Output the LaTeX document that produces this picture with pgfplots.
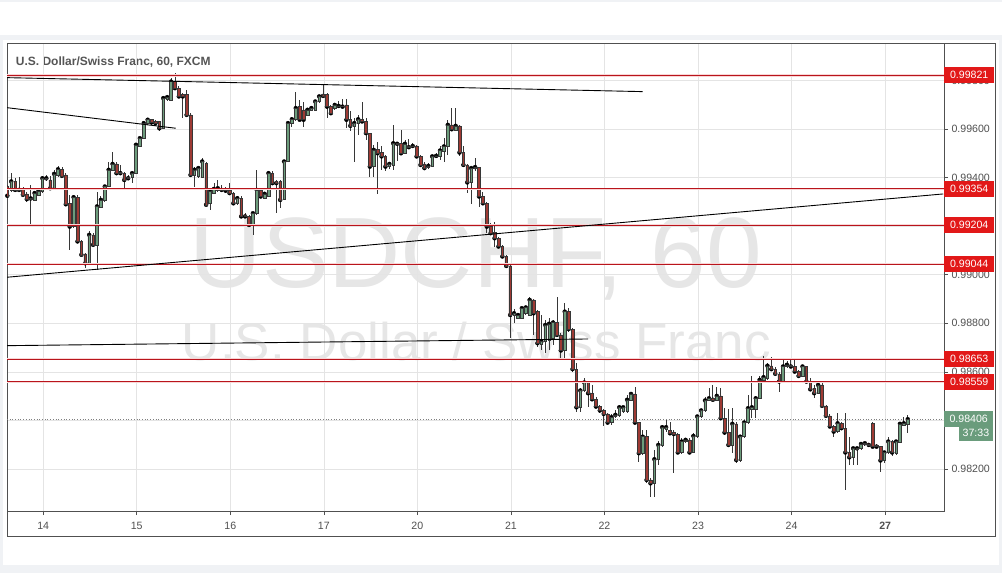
\documentclass[border=0pt]{standalone}
\usepackage{pgfplots}
\pgfplotsset{compat=1.18}
\usepackage{pgfplotstable}
\usepackage{fontspec}
\setmainfont{Liberation Sans}
\definecolor{upc}{RGB}{108,156,124}
\definecolor{dnc}{RGB}{158,58,52}
\definecolor{edge}{RGB}{55,55,55}
\definecolor{lvl}{RGB}{185,20,28}
\definecolor{lvlhalo}{RGB}{248,214,214}
\definecolor{boxred}{RGB}{226,24,24}
\definecolor{boxgreen}{RGB}{106,156,124}
\definecolor{axc}{RGB}{80,80,80}
\definecolor{gridc}{RGB}{228,228,228}
\definecolor{txt}{RGB}{80,80,80}
\definecolor{wm}{RGB}{230,230,230}
\definecolor{bgc}{RGB}{240,242,245}

\pgfplotstableread{
o h l c
0.99363 0.99370 0.99315 0.99325
0.99349 0.99418 0.99342 0.99384
0.99384 0.99397 0.99342 0.99349
0.99356 0.99404 0.99342 0.99349
0.99353 0.99363 0.99325 0.99329
0.99333 0.99342 0.99301 0.99311
0.99311 0.99370 0.99201 0.99314
0.99308 0.99342 0.99305 0.99336
0.99329 0.99349 0.99325 0.99345
0.99342 0.99407 0.99338 0.99397
0.99393 0.99411 0.99384 0.99397
0.99390 0.99407 0.99352 0.99356
0.99356 0.99432 0.99352 0.99415
0.99411 0.99448 0.99404 0.99434
0.99434 0.99445 0.99404 0.99407
0.99411 0.99418 0.99288 0.99290
0.99294 0.99329 0.99102 0.99198
0.99198 0.99329 0.99191 0.99319
0.99319 0.99329 0.99130 0.99137
0.99137 0.99143 0.99075 0.99082
0.99086 0.99088 0.99027 0.99047
0.99047 0.99178 0.99040 0.99164
0.99164 0.99171 0.99119 0.99123
0.99123 0.99342 0.99020 0.99281
0.99278 0.99322 0.99274 0.99308
0.99308 0.99370 0.99301 0.99363
0.99363 0.99466 0.99360 0.99432
0.99432 0.99507 0.99425 0.99456
0.99456 0.99462 0.99415 0.99418
0.99421 0.99452 0.99411 0.99418
0.99418 0.99421 0.99356 0.99390
0.99401 0.99411 0.99390 0.99397
0.99401 0.99425 0.99377 0.99418
0.99418 0.99541 0.99415 0.99535
0.99530 0.99569 0.99528 0.99562
0.99562 0.99631 0.99558 0.99624
0.99624 0.99640 0.99617 0.99638
0.99638 0.99640 0.99617 0.99627
0.99631 0.99638 0.99613 0.99624
0.99631 0.99633 0.99590 0.99603
0.99603 0.99734 0.99599 0.99727
0.99723 0.99741 0.99717 0.99731
0.99720 0.99809 0.99717 0.99795
0.99795 0.99830 0.99764 0.99768
0.99768 0.99775 0.99727 0.99734
0.99741 0.99747 0.99644 0.99734
0.99741 0.99761 0.99654 0.99658
0.99658 0.99665 0.99407 0.99411
0.99411 0.99445 0.99363 0.99432
0.99404 0.99445 0.99397 0.99439
0.99401 0.99480 0.99397 0.99466
0.99459 0.99462 0.99283 0.99288
0.99294 0.99349 0.99267 0.99342
0.99336 0.99377 0.99333 0.99353
0.99349 0.99390 0.99342 0.99356
0.99356 0.99370 0.99342 0.99349
0.99352 0.99363 0.99338 0.99346
0.99346 0.99377 0.99329 0.99336
0.99336 0.99342 0.99288 0.99294
0.99294 0.99322 0.99288 0.99315
0.99315 0.99322 0.99233 0.99240
0.99246 0.99253 0.99233 0.99240
0.99240 0.99246 0.99198 0.99205
0.99205 0.99260 0.99164 0.99253
0.99253 0.99432 0.99246 0.99349
0.99349 0.99356 0.99315 0.99322
0.99315 0.99342 0.99311 0.99333
0.99325 0.99425 0.99322 0.99418
0.99418 0.99425 0.99374 0.99377
0.99384 0.99390 0.99253 0.99377
0.99384 0.99390 0.99274 0.99308
0.99311 0.99473 0.99308 0.99466
0.99466 0.99631 0.99462 0.99624
0.99624 0.99651 0.99610 0.99640
0.99638 0.99754 0.99631 0.99686
0.99692 0.99720 0.99631 0.99638
0.99679 0.99713 0.99610 0.99638
0.99658 0.99686 0.99654 0.99679
0.99679 0.99692 0.99675 0.99686
0.99679 0.99720 0.99675 0.99713
0.99713 0.99741 0.99709 0.99734
0.99741 0.99782 0.99731 0.99736
0.99741 0.99747 0.99644 0.99692
0.99692 0.99699 0.99658 0.99665
0.99686 0.99706 0.99679 0.99699
0.99692 0.99717 0.99686 0.99695
0.99695 0.99723 0.99686 0.99692
0.99699 0.99723 0.99603 0.99638
0.99638 0.99672 0.99590 0.99613
0.99613 0.99644 0.99466 0.99624
0.99624 0.99658 0.99576 0.99640
0.99638 0.99713 0.99624 0.99631
0.99631 0.99644 0.99555 0.99583
0.99583 0.99585 0.99404 0.99445
0.99445 0.99535 0.99404 0.99514
0.99517 0.99548 0.99333 0.99500
0.99503 0.99530 0.99432 0.99487
0.99487 0.99493 0.99425 0.99445
0.99448 0.99466 0.99434 0.99456
0.99452 0.99617 0.99432 0.99541
0.99541 0.99548 0.99470 0.99539
0.99541 0.99596 0.99493 0.99500
0.99500 0.99555 0.99498 0.99539
0.99530 0.99558 0.99521 0.99525
0.99528 0.99544 0.99521 0.99530
0.99530 0.99535 0.99484 0.99487
0.99487 0.99493 0.99443 0.99452
0.99456 0.99462 0.99434 0.99439
0.99441 0.99459 0.99437 0.99448
0.99445 0.99489 0.99443 0.99487
0.99487 0.99500 0.99480 0.99489
0.99487 0.99530 0.99473 0.99511
0.99507 0.99562 0.99466 0.99528
0.99528 0.99638 0.99493 0.99617
0.99617 0.99686 0.99594 0.99599
0.99596 0.99686 0.99590 0.99613
0.99613 0.99617 0.99487 0.99503
0.99503 0.99530 0.99445 0.99452
0.99452 0.99456 0.99336 0.99380
0.99380 0.99443 0.99292 0.99439
0.99439 0.99480 0.99425 0.99443
0.99443 0.99445 0.99278 0.99322
0.99322 0.99342 0.99288 0.99294
0.99294 0.99301 0.99171 0.99198
0.99201 0.99212 0.99164 0.99171
0.99174 0.99219 0.99116 0.99150
0.99150 0.99157 0.99109 0.99116
0.99116 0.99123 0.99068 0.99075
0.99075 0.99082 0.99031 0.99036
0.99036 0.99045 0.98738 0.98834
0.98834 0.98858 0.98800 0.98841
0.98821 0.98844 0.98817 0.98834
0.98821 0.98866 0.98817 0.98862
0.98841 0.98869 0.98834 0.98865
0.98834 0.98907 0.98830 0.98896
0.98896 0.98899 0.98752 0.98841
0.98848 0.98855 0.98704 0.98718
0.98715 0.98834 0.98690 0.98725
0.98725 0.98814 0.98677 0.98793
0.98732 0.98821 0.98690 0.98798
0.98738 0.98814 0.98711 0.98803
0.98803 0.98910 0.98745 0.98752
0.98752 0.98759 0.98649 0.98688
0.98690 0.98883 0.98656 0.98848
0.98848 0.98862 0.98766 0.98776
0.98776 0.98780 0.98601 0.98611
0.98611 0.98636 0.98436 0.98454
0.98454 0.98533 0.98436 0.98523
0.98523 0.98574 0.98515 0.98556
0.98556 0.98564 0.98457 0.98512
0.98512 0.98546 0.98478 0.98487
0.98487 0.98496 0.98450 0.98457
0.98457 0.98464 0.98432 0.98441
0.98441 0.98446 0.98377 0.98427
0.98427 0.98432 0.98386 0.98391
0.98394 0.98427 0.98382 0.98413
0.98416 0.98443 0.98409 0.98423
0.98423 0.98464 0.98416 0.98454
0.98436 0.98460 0.98430 0.98454
0.98436 0.98505 0.98430 0.98485
0.98485 0.98519 0.98478 0.98509
0.98509 0.98539 0.98388 0.98391
0.98391 0.98395 0.98230 0.98265
0.98265 0.98361 0.98258 0.98333
0.98333 0.98361 0.98141 0.98155
0.98155 0.98162 0.98086 0.98141
0.98141 0.98279 0.98084 0.98240
0.98240 0.98317 0.98217 0.98299
0.98299 0.98382 0.98292 0.98372
0.98364 0.98402 0.98354 0.98372
0.98358 0.98395 0.98340 0.98347
0.98350 0.98361 0.98182 0.98344
0.98344 0.98350 0.98262 0.98268
0.98268 0.98327 0.98262 0.98313
0.98313 0.98327 0.98306 0.98320
0.98320 0.98327 0.98265 0.98268
0.98268 0.98347 0.98265 0.98336
0.98336 0.98423 0.98327 0.98416
0.98416 0.98446 0.98409 0.98441
0.98441 0.98498 0.98436 0.98482
0.98482 0.98533 0.98478 0.98491
0.98491 0.98546 0.98478 0.98485
0.98482 0.98539 0.98478 0.98501
0.98501 0.98533 0.98402 0.98409
0.98409 0.98450 0.98340 0.98350
0.98350 0.98446 0.98292 0.98299
0.98299 0.98450 0.98265 0.98386
0.98386 0.98395 0.98226 0.98237
0.98237 0.98340 0.98230 0.98333
0.98333 0.98402 0.98327 0.98391
0.98391 0.98505 0.98386 0.98450
0.98446 0.98583 0.98409 0.98454
0.98446 0.98501 0.98409 0.98491
0.98491 0.98583 0.98487 0.98567
0.98567 0.98666 0.98560 0.98578
0.98574 0.98636 0.98567 0.98625
0.98625 0.98660 0.98605 0.98611
0.98611 0.98622 0.98587 0.98592
0.98592 0.98601 0.98515 0.98560
0.98560 0.98652 0.98556 0.98622
0.98622 0.98646 0.98615 0.98629
0.98626 0.98652 0.98615 0.98622
0.98622 0.98652 0.98597 0.98601
0.98601 0.98608 0.98578 0.98583
0.98583 0.98629 0.98581 0.98622
0.98622 0.98625 0.98556 0.98560
0.98560 0.98574 0.98523 0.98528
0.98533 0.98546 0.98491 0.98512
0.98512 0.98553 0.98509 0.98546
0.98546 0.98553 0.98454 0.98460
0.98460 0.98464 0.98413 0.98419
0.98419 0.98427 0.98368 0.98375
0.98375 0.98382 0.98331 0.98354
0.98354 0.98432 0.98347 0.98388
0.98388 0.98395 0.98361 0.98368
0.98368 0.98430 0.98114 0.98268
0.98268 0.98333 0.98217 0.98248
0.98248 0.98292 0.98217 0.98285
0.98281 0.98292 0.98217 0.98285
0.98285 0.98313 0.98279 0.98303
0.98303 0.98309 0.98295 0.98306
0.98303 0.98309 0.98292 0.98299
0.98388 0.98395 0.98290 0.98292
0.98299 0.98303 0.98285 0.98292
0.98292 0.98295 0.98189 0.98235
0.98235 0.98272 0.98226 0.98268
0.98268 0.98333 0.98262 0.98313
0.98313 0.98320 0.98254 0.98268
0.98265 0.98317 0.98258 0.98313
0.98309 0.98391 0.98306 0.98386
0.98382 0.98416 0.98377 0.98388
0.98386 0.98423 0.98347 0.98405
}\candles

\begin{document}
\begin{tikzpicture}
\useasboundingbox (0pt,0pt) rectangle (1002pt,-573pt);
\fill[bgc] (0pt,0pt) rectangle (1002pt,-573pt);
\fill[white] (0pt,-2pt) rectangle (1002pt,-35pt);
\fill[white] (3pt,-40pt) rectangle (999pt,-565pt);
\draw[axc, line width=0.8pt] (7pt,-43pt) rectangle (995pt,-536pt);
\node[anchor=base, font=\fontsize{100}{100}\selectfont, text=wm, inner sep=0] at (476pt,-287pt) {USDCHF, 60};
\node[anchor=base, font=\fontsize{53}{53}\selectfont, text=wm, inner sep=0] at (476.5pt,-360pt) {U.S. Dollar / Swiss Franc};
\node[anchor=base west, font=\fontsize{12}{14}\selectfont\bfseries, text={rgb,255:red,85;green,85;blue,85}, inner sep=0] at (15.7pt,-65pt) {U.S. Dollar/Swiss Franc, 60, FXCM};

\pgfplotsset{chartax/.style={at={(7pt,-511pt)}, anchor=south west, scale only axis, width=937pt, height=468pt, xmin=0.915, xmax=241.3, ymin=0.98027, ymax=0.99954}}
\tikzset{lvlbox/.style={anchor=west, fill=boxred, text=white, minimum width=50pt, minimum height=16pt, inner sep=0, font=\fontsize{10.6}{12}\selectfont}}

\begin{axis}[chartax,
  axis line style={axc, line width=0.8pt},
  xtick={10.2,34.2,58.2,82.2,106.2,130.2,154.2,178.2,202.2,226.2},
  xticklabels={14,15,16,17,20,21,22,23,24,\textbf{27}},
  ytick={0.982,0.984,0.986,0.988,0.990,0.992,0.994,0.996,0.998},
  yticklabels={0.98200,0.98400,0.98600,0.98800,0.99000,0.99200,0.99400,0.99600,0.99800},
  ytick pos=right, yticklabel pos=right, xtick pos=bottom,
  tick align=outside, major tick length=4pt, tick style={axc, line width=0.6pt},
  xmajorgrids, ymajorgrids, major grid style={gridc, line width=0.6pt},
  ticklabel style={font=\fontsize{10.6}{12}\selectfont, text=txt},
  xticklabel style={yshift=-4pt},
  /pgf/number format/assume math mode=true,
  clip mode=individual]
\addplot[draw=gray, dotted, line width=0.7pt] coordinates {(0.915,0.98406) (241.3,0.98406)};
\addplot[only marks, mark=none, error bars/.cd, y dir=both, y explicit, error mark=none,
  error bar style={draw=edge, line width=0.8pt}]
  table[x expr=\coordindex+1, y=c, y error plus expr=\thisrow{h}-\thisrow{c}, y error minus expr=\thisrow{c}-\thisrow{l}] {\candles};
\end{axis}

\begin{axis}[chartax, hide axis, ybar stacked, bar width=2.6pt]
\addplot[draw=none, fill=none] table[x expr=\coordindex+1, y expr={min(\thisrow{o},\thisrow{c})}] {\candles};
\addplot[draw=edge, line width=0.5pt, fill=upc] table[x expr=\coordindex+1, y expr={max(\thisrow{c}-\thisrow{o},0)}] {\candles};
\addplot[draw=edge, line width=0.5pt, fill=dnc] table[x expr=\coordindex+1, y expr={max(\thisrow{o}-\thisrow{c},0)}] {\candles};
\end{axis}

\begin{axis}[chartax, hide axis, clip mode=individual]
\addplot[draw=lvlhalo, line width=2.4pt] coordinates {(0.915,0.99821) (241.3,0.99821)};
\addplot[draw=lvl, line width=0.85pt] coordinates {(0.915,0.99821) (241.3,0.99821)};
\addplot[draw=lvlhalo, line width=2.4pt] coordinates {(0.915,0.99354) (241.3,0.99354)};
\addplot[draw=lvl, line width=0.85pt] coordinates {(0.915,0.99354) (241.3,0.99354)};
\addplot[draw=lvlhalo, line width=2.4pt] coordinates {(0.915,0.99204) (241.3,0.99204)};
\addplot[draw=lvl, line width=0.85pt] coordinates {(0.915,0.99204) (241.3,0.99204)};
\addplot[draw=lvlhalo, line width=2.4pt] coordinates {(0.915,0.99044) (241.3,0.99044)};
\addplot[draw=lvl, line width=0.85pt] coordinates {(0.915,0.99044) (241.3,0.99044)};
\addplot[draw=lvlhalo, line width=2.4pt] coordinates {(0.915,0.98653) (241.3,0.98653)};
\addplot[draw=lvl, line width=0.85pt] coordinates {(0.915,0.98653) (241.3,0.98653)};
\addplot[draw=lvlhalo, line width=2.4pt] coordinates {(0.915,0.98559) (241.3,0.98559)};
\addplot[draw=lvl, line width=0.85pt] coordinates {(0.915,0.98559) (241.3,0.98559)};
\addplot[draw=black, line width=0.9pt] coordinates {(0.84,0.998114) (164.0,0.997538)};
\addplot[draw=black, line width=0.9pt] coordinates {(0.84,0.996879) (44.2,0.996030)};
\addplot[draw=black, line width=0.9pt] coordinates {(0.84,0.989894) (241.1,0.993325)};
\addplot[draw=black, line width=0.9pt] coordinates {(0.84,0.987078) (150.0,0.987353)};
\node[lvlbox] at (axis cs:241.3,0.99821) {0.99821};
\node[lvlbox] at (axis cs:241.3,0.99354) {0.99354};
\node[lvlbox] at (axis cs:241.3,0.99204) {0.99204};
\node[lvlbox] at (axis cs:241.3,0.99044) {0.99044};
\node[lvlbox] at (axis cs:241.3,0.98653) {0.98653};
\node[lvlbox] at (axis cs:241.3,0.98559) {0.98559};
\node[lvlbox, fill=boxgreen, minimum width=49pt] at (axis cs:241.3,0.98406) {0.98406};
\node[fill=boxgreen, text=white, minimum width=34pt, minimum height=16pt, inner sep=0,
  font=\fontsize{10.6}{12}\selectfont] at (axis cs:249.5,0.983482) {37:33};
\end{axis}
\end{tikzpicture}
\end{document}
